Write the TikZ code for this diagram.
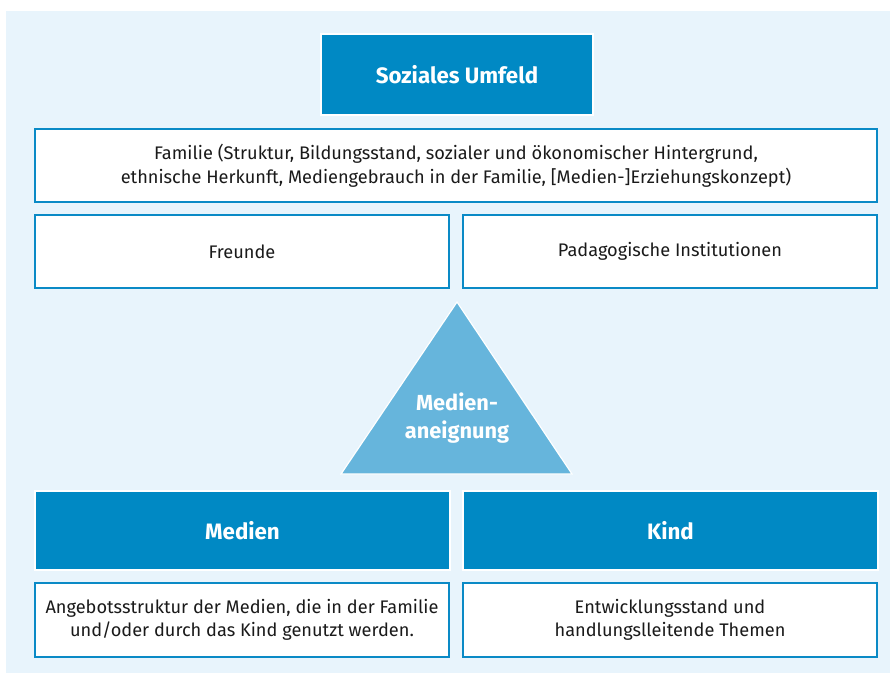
\documentclass[tikz,border=0pt]{standalone}
\usepackage{fontspec}
\setmainfont{Fira Sans}
\definecolor{panel}{HTML}{E8F4FC}
\definecolor{frame}{HTML}{0A8AC6}
\definecolor{dark}{HTML}{0089C4}
\definecolor{tri}{HTML}{66B5DC}
\definecolor{txt}{HTML}{1A1A1A}
\begin{document}
\begin{tikzpicture}[x=1pt,y=-1pt,
  whitebox/.style={draw=frame,line width=2pt,fill=white,text=txt,align=center,
    inner sep=0pt,font=\fontsize{18.2}{23.5}\selectfont},
  darkbox/.style={draw=white,line width=1.2pt,fill=dark,text=white,align=center,
    inner sep=0pt,font=\fontsize{22.3}{26}\selectfont\bfseries}]
\useasboundingbox (0,0) rectangle (890,673);
\fill[panel] (6,11) rectangle (890,673);
\node[darkbox,minimum width=272pt,minimum height=81pt] (su) at (457,74.5) {Soziales Umfeld};
\node[whitebox,minimum width=842pt,minimum height=73pt] (fam) at (456,165.5)
  {Familie (Struktur, Bildungsstand, sozialer und ökonomischer Hintergrund,\\ethnische Herkunft, Mediengebrauch in der Familie, [Medien-]Erziehungskonzept)};
\node[whitebox,minimum width=414pt,minimum height=73pt] (fr) at (242,251.5) {Freunde};
\node[whitebox,minimum width=414pt,minimum height=73pt] (pi) at (670,251.5) {Padagogische Institutionen};
\draw[fill=tri,draw=white,line width=1.2pt] (457,302) -- (572,474) -- (341,474) -- cycle;
\node[text=white,align=center,inner sep=0pt,font=\fontsize{21.8}{28}\selectfont\bfseries] (ma) at (457,418) {Medien-\\aneignung};
\node[darkbox,minimum width=415pt,minimum height=79pt] (me) at (242.5,530.5) {Medien};
\node[darkbox,minimum width=415pt,minimum height=79pt] (ki) at (670.5,530.5) {Kind};
\node[whitebox,minimum width=414pt,minimum height=74pt] (ang) at (242,620)
  {Angebotsstruktur der Medien, die in der Familie\\und/oder durch das Kind genutzt werden.};
\node[whitebox,minimum width=414pt,minimum height=74pt] (ent) at (670,620)
  {Entwicklungsstand und\\handlungslleitende Themen};
\end{tikzpicture}
\end{document}
